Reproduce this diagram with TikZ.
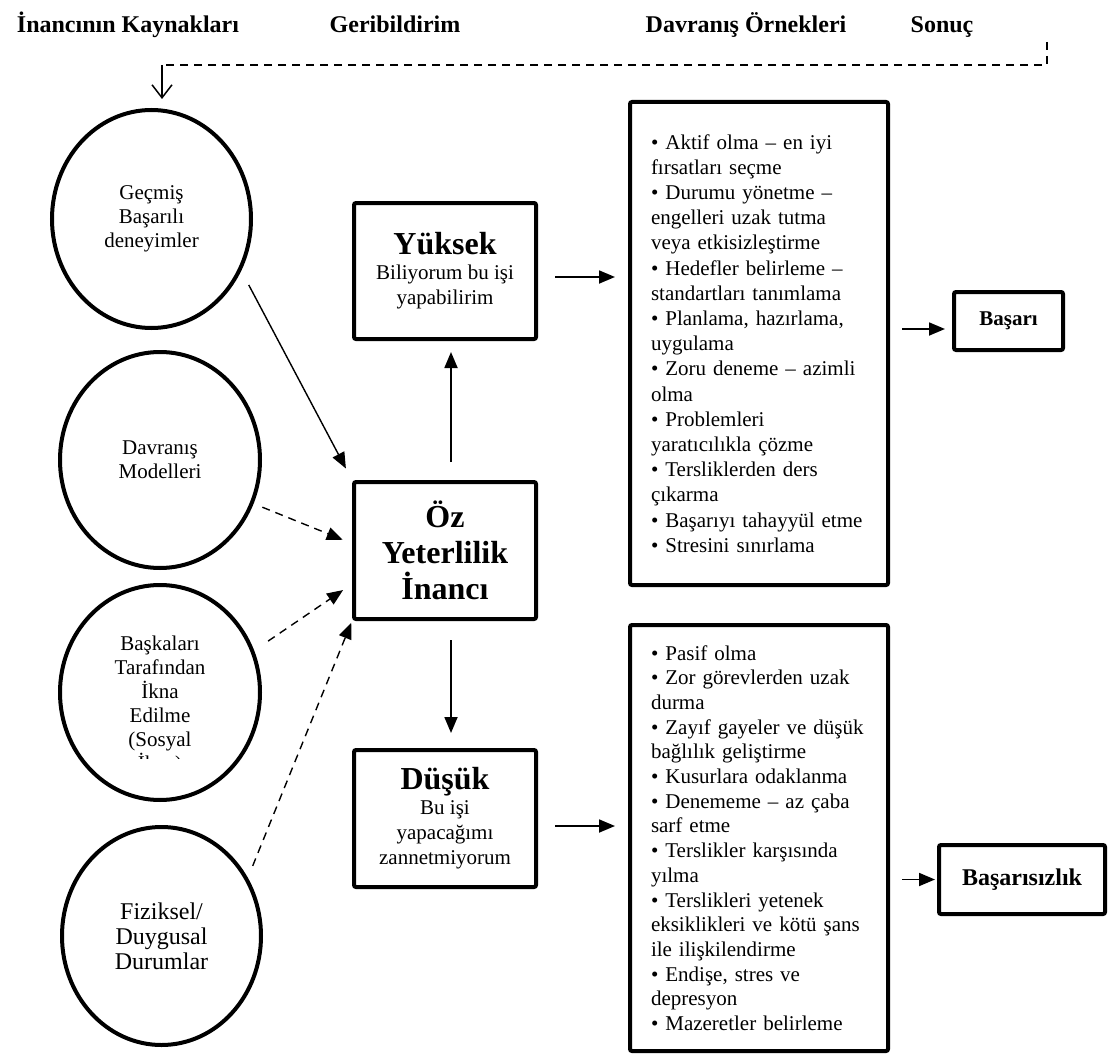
\documentclass[tikz,border=0pt]{standalone}
\usepackage{fontspec}
\setmainfont{Liberation Serif}
\usetikzlibrary{shapes.geometric,arrows.meta}

\tikzset{
  kaynak/.style={ellipse, draw, line width=2pt, inner sep=0pt, align=center, font=\fontsize{10.5}{12}\selectfont},
  kutu/.style={rectangle, draw, line width=2pt, rounded corners=1pt, align=center, inner sep=0pt},
  liste/.style={rectangle, draw, line width=2pt, rounded corners=1pt, align=left, text width=108pt, inner xsep=10.5pt, inner ysep=0pt},
  baslik/.style={anchor=base, font=\fontsize{12}{14}\selectfont\bfseries},
  ok/.style={-{Triangle[length=8pt,width=6.5pt]}, line width=0.9pt},
  kesikok/.style={ok, line width=0.7pt, dash pattern=on 4pt off 3pt},
}

\begin{document}
\begin{tikzpicture}[x=0.5pt, y=-0.5pt]
  \useasboundingbox (0,0) rectangle (1109,1054);

  % Column titles
  \node[baslik] (h1) at (128,33) {İnancının Kaynakları};
  \node[baslik] (h2) at (395,33) {Geribildirim};
  \node[baslik] (h3) at (746,33) {Davranış Örnekleri};
  \node[baslik] (h4) at (942,33) {Sonuç};

  % Sources of the belief
  \node[kaynak, minimum width=99.5pt, minimum height=109pt] (gecmis) at (151.5,219) {Geçmiş\\Başarılı\\deneyimler};
  \node[kaynak, minimum width=100pt, minimum height=108pt] (modeller) at (160,460) {Davranış\\Modelleri};
  \node[kaynak, minimum width=100pt, minimum height=107.5pt] (ikna) at (160,692.5) {};
  \begin{scope}
    \clip (50,600) rectangle (270,758);
    \node[anchor=north, align=center, inner sep=0pt, font=\fontsize{10.5}{12}\selectfont] (iknayazi) at (160,636)
      {Başkaları\\Tarafından\\İkna\\Edilme\\(Sosyal\\İkna)};
  \end{scope}
  \node[kaynak, minimum width=99.5pt, minimum height=109pt, font=\fontsize{12}{12.5}\selectfont] (duygu) at (161.5,936) {Fiziksel/\\Duygusal\\Durumlar};

  % Belief boxes
  \node[kutu, minimum width=91pt, minimum height=68pt, font=\fontsize{10.5}{12.5}\selectfont] (yuksek) at (445,271)
    {{\fontsize{16}{18}\selectfont\bfseries Yüksek}\\Biliyorum bu işi\\yapabilirim};
  \node[kutu, minimum width=91pt, minimum height=68.5pt, font=\fontsize{16}{18}\selectfont\bfseries] (oz) at (445,550.5)
    {Öz\\Yeterlilik\\İnancı};
  \node[kutu, minimum width=91pt, minimum height=68.5pt, font=\fontsize{10.5}{12.5}\selectfont] (dusuk) at (445,818.5)
    {{\fontsize{16}{18}\selectfont\bfseries Düşük}\\Bu işi\\yapacağımı\\zannetmiyorum};

  % Behaviour lists
  \node[liste, minimum height=241.5pt, font=\fontsize{10.5}{12.6}\selectfont] (ustliste) at (759,343.5)
    {• Aktif olma – en iyi\\
     fırsatları seçme\\
     • Durumu yönetme –\\
     engelleri uzak tutma\\
     veya etkisizleştirme\\
     • Hedefler belirleme –\\
     standartları tanımlama\\
     • Planlama, hazırlama,\\
     uygulama\\
     • Zoru deneme – azimli\\
     olma\\
     • Problemleri\\
     yaratıcılıkla çözme\\
     • Tersliklerden ders\\
     çıkarma\\
     • Başarıyı tahayyül etme\\
     • Stresini sınırlama};
  \node[liste, minimum height=213pt, font=\fontsize{10.5}{12.35}\selectfont] (altliste) at (759,838)
    {• Pasif olma\\
     • Zor görevlerden uzak\\
     durma\\
     • Zayıf gayeler ve düşük\\
     bağlılık geliştirme\\
     • Kusurlara odaklanma\\
     • Denememe – az çaba\\
     sarf etme\\
     • Terslikler karşısında\\
     yılma\\
     • Terslikleri yetenek\\
     eksiklikleri ve kötü şans\\
     ile ilişkilendirme\\
     • Endişe, stres ve\\
     depresyon\\
     • Mazeretler belirleme};

  % Outcomes
  \node[kutu, minimum width=54.5pt, minimum height=29pt, font=\fontsize{10.5}{12}\selectfont\bfseries] (basari) at (1008.5,321) {Başarı};
  \node[kutu, minimum width=83pt, minimum height=34.5pt, font=\fontsize{12}{14}\selectfont\bfseries] (basarisizlik) at (1022,879.5) {Başarısızlık};

  % Sources -> belief
  \draw[ok, line width=0.7pt, shorten <=8pt, shorten >=6.5pt] (gecmis.-30) -- (oz.north west);
  \draw[kesikok, shorten <=4.7pt, shorten >=5pt] (modeller.-25.5) -- ([yshift=3.5pt]oz.west);
  \draw[kesikok, shorten <=8.4pt, shorten >=5.4pt] (ikna.24.4) -- ([yshift=-16.75pt]oz.west);
  \draw[kesikok, shorten <=6.4pt, shorten >=1pt] (duygu.34.5) -- (oz.south west);

  % Belief -> high / low
  \draw[ok, shorten <=9pt, shorten >=5.5pt] ([xshift=3pt]oz.north) -- ([xshift=3pt]yuksek.south);
  \draw[ok, shorten <=9.5pt, shorten >=7.5pt] ([xshift=3pt]oz.south) -- ([xshift=3pt]dusuk.north);

  % Belief -> behaviour -> outcome
  \draw[ok, shorten <=8.5pt, shorten >=6.5pt] ([yshift=-3pt]yuksek.east) -- ([yshift=-3pt]yuksek.east -| ustliste.west);
  \draw[ok, shorten <=8.5pt, shorten >=6.5pt] ([yshift=-3.75pt]dusuk.east) -- ([yshift=-3.75pt]dusuk.east -| altliste.west);
  \draw[ok, shorten <=6pt, shorten >=3.5pt] ([yshift=-4pt]basari.west -| ustliste.east) -- ([yshift=-4pt]basari.west);
  \draw[ok, shorten <=6pt, shorten >=1pt] (basarisizlik.west -| altliste.east) -- (basarisizlik.west);

  % Feedback line
  \coordinate (fbust) at (1047,42);
  \coordinate (fbkose) at (162,65);
  \draw[line width=0.75pt, dash pattern=on 4pt off 3pt] (fbust) |- (fbkose);
  \draw[line width=0.75pt, -{Straight Barb[length=6.5pt,width=10pt]}, shorten >=4.5pt] (fbkose) -- (fbkose |- gecmis.north);
\end{tikzpicture}
\end{document}
